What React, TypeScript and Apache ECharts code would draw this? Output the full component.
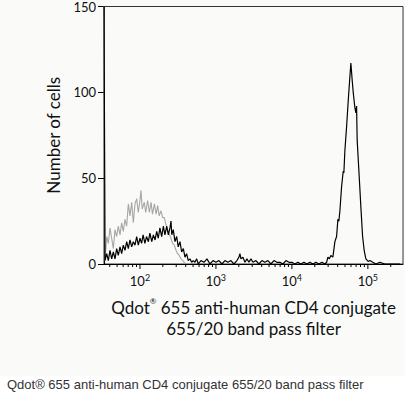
import React, { useEffect, useRef } from "react";
import * as echarts from "echarts";

// Fluorescence intensity (x) and number of cells (y)
const cd4Stain: [number, number][] = [
  [33.6, 160], [34.6, 2], [36.5, 6], [38.3, 2], [40.3, 8], [42.4, 3], [44.6, 7], [46.9, 3],
  [49.3, 9], [51.8, 5], [54.6, 10], [57.4, 6], [60.3, 11], [63.5, 8], [66.8, 13], [70.2, 9],
  [73.9, 14], [77.8, 10], [81.7, 13], [85.9, 11], [90.5, 16], [95, 11], [100, 15], [105, 12],
  [110, 17], [116, 12], [122, 16], [129, 13], [135, 18], [143, 13], [150, 17], [158, 14],
  [166, 19], [174, 15], [183, 21], [193, 16], [203, 22], [213, 17], [225, 22], [236, 17],
  [248, 21], [256, 25], [262, 17], [274, 20], [289, 13], [304, 16], [319, 10], [336, 13],
  [354, 7], [372, 9], [391, 4], [411, 6], [432, 2], [455, 3], [479, 1], [503, 2], [529, 1],
  [557, 3], [585, 0], [635, 2], [695, 1], [762, 3], [834, 0], [914, 2], [1000, 1], [1095, 2],
  [1199, 0], [1313, 2], [1438, 1], [1574, 2], [1725, 0], [1889, 2], [2008, 4], [2069, 6],
  [2133, 3], [2265, 4], [2408, 1], [2558, 3], [2718, 1], [2889, 3], [3070, 1], [3360, 2],
  [3679, 0], [4028, 2], [4411, 1], [4830, 2], [5290, 0], [5793, 2], [6349, 1], [6950, 1],
  [7620, 0], [8340, 2], [9140, 1], [10000, 1], [10950, 0], [12000, 1], [13130, 0], [14390, 1],
  [15740, 0], [17250, 1], [18890, 0], [20700, 1], [22650, 0], [24830, 1], [27180, 0],
  [28640, 1], [29790, 4], [31140, 3], [32580, 5], [34620, 4], [36790, 13], [38730, 16],
  [40300, 26], [41500, 25], [42840, 31], [45070, 45], [47340, 54], [48310, 53], [49800, 66],
  [52460, 80], [55100, 95], [57960, 109], [59730, 117], [62170, 107], [64140, 100],
  [67450, 91], [69530, 88], [71010, 92], [72320, 72], [76880, 51], [80910, 33], [85200, 16],
  [89370, 8], [94100, 3], [100900, 1.5], [106200, 2], [116300, 1], [127500, 0], [143800, 1],
  [167400, 0], [194700, 0], [226300, 0], [263600, 0],
];

const control: [number, number][] = [
  [33.6, 160], [34.6, 2], [36.5, 16], [38.3, 12], [40.3, 21], [42.4, 15], [44.6, 9],
  [46.9, 20], [49.3, 16], [51.8, 22], [54.6, 17], [57.4, 24], [60.3, 19], [63.5, 26],
  [66.8, 22], [70.2, 35], [73.9, 28], [77.8, 36], [81.7, 24], [85.9, 35], [90.5, 38],
  [95, 30], [100, 37], [103, 43], [107, 32], [114, 36], [119, 30], [126, 37], [133, 30],
  [140, 36], [146, 29], [155, 35], [163, 29], [171, 34], [179, 28], [189, 31], [199, 27],
  [209, 27], [220, 23], [231, 20], [244, 17], [256, 15], [269, 12], [283, 11], [298, 8],
  [313, 6], [329, 5], [347, 3], [365, 2], [383, 1], [403, 0],
];

const yTicks = [0, 50, 100, 150];
const majorTicks = [100, 1000, 10000, 100000];
const minorMultipliers = [2, 3, 4, 5, 6, 7, 8, 9];
const decades = [10, 100, 1000, 10000, 100000];
const xMin = 33.6;
const xMax = 290000;

const yAxisTitle = "Number of cells";
const xAxisTitle = "Qdot{sup|®} 655 anti-human CD4 conjugate\n655/20 band pass filter";
const caption = "Qdot® 655 anti-human CD4 conjugate 655/20 band pass filter";

export default function App() {
  const ref = useRef<HTMLDivElement>(null);
  useEffect(() => {
    if (!ref.current) return;
    const chart = echarts.init(ref.current, null, { renderer: "svg" });
    const tickData: [number, number][] = [];
    majorTicks.forEach((v) => tickData.push([v, 5]));
    decades.forEach((d) =>
      minorMultipliers.forEach((m) => {
        const v = d * m;
        if (v > xMin && v < xMax) tickData.push([v, 3]);
      })
    );
    const font = "Lato";
    chart.setOption({
      animation: false,
      backgroundColor: "#ffffff",
      textStyle: { fontFamily: font },
      graphic: [
        { type: "rect", z: -10, shape: { x: 0, y: 0, width: 405, height: 376 }, style: { fill: "#fafbf9" }, silent: true },
        {
          type: "text",
          left: 7,
          top: 378,
          style: { text: caption, font: '13px "Liberation Sans", Arial, sans-serif', fill: "#333333" },
        },
      ],
      grid: {
        left: 104,
        right: 8,
        top: 6,
        bottom: 133,
        show: true,
        borderColor: "#333333",
        borderWidth: 1,
        backgroundColor: "transparent",
      },
      xAxis: {
        type: "log",
        logBase: 10,
        min: xMin,
        max: xMax,
        name: xAxisTitle,
        nameLocation: "middle",
        nameGap: 33,
        nameTextStyle: {
          fontFamily: font,
          fontSize: 17,
          color: "#111111",
          lineHeight: 21,
          rich: { sup: { fontSize: 8, verticalAlign: "top", lineHeight: 12, fontFamily: font, color: "#111111" } },
        },
        axisLine: { show: true, lineStyle: { color: "#000000", width: 1 } },
        axisTick: { show: false },
        minorTick: { show: false },
        splitLine: { show: false },
        axisLabel: {
          margin: 9,
          color: "#111111",
          formatter: (v: number) => {
            const e = Math.log10(v);
            if (Math.abs(e - Math.round(e)) > 0.01) return "";
            return `{b|10}{s|${Math.round(e)}}`;
          },
          rich: {
            b: { fontSize: 13, fontFamily: font, color: "#111111", lineHeight: 15 },
            s: { fontSize: 9, fontFamily: font, color: "#111111", verticalAlign: "top", lineHeight: 9 },
          },
        },
      },
      yAxis: {
        type: "value",
        min: 0,
        max: 150,
        interval: 50,
        name: yAxisTitle,
        nameLocation: "middle",
        nameGap: 41,
        nameRotate: 90,
        nameTextStyle: { fontFamily: font, fontSize: 17, color: "#111111" },
        axisLine: { show: true, lineStyle: { color: "#000000", width: 1 } },
        axisTick: { show: true, length: 6, lineStyle: { color: "#000000" } },
        splitLine: { show: false },
        axisLabel: {
          margin: 8,
          fontSize: 13,
          color: "#111111",
          formatter: (v: number) => (yTicks.includes(v) ? String(v) : ""),
        },
      },
      series: [
        {
          type: "line",
          data: control,
          showSymbol: false,
          symbol: "none",
          lineStyle: { color: "#a6a6a6", width: 1.1 },
          z: 2,
        },
        {
          type: "line",
          data: cd4Stain,
          showSymbol: false,
          symbol: "none",
          lineStyle: { color: "#000000", width: 1.2 },
          z: 3,
        },
        {
          type: "custom",
          data: tickData,
          encode: { x: 0, y: 1 },
          clip: false,
          silent: true,
          z: 4,
          renderItem: (_params: any, api: any) => {
            const p = api.coord([api.value(0), 0]);
            const len = api.value(1);
            return {
              type: "line",
              shape: { x1: p[0], y1: p[1], x2: p[0], y2: p[1] + len },
              style: { stroke: "#000000", lineWidth: 1 },
            };
          },
        },
      ],
    });
    return () => chart.dispose();
  }, []);
  return (
    <div
      ref={ref}
      style={{ position: "fixed", left: 0, top: 0, width: 411, height: 397, background: "#ffffff" }}
    />
  );
}
